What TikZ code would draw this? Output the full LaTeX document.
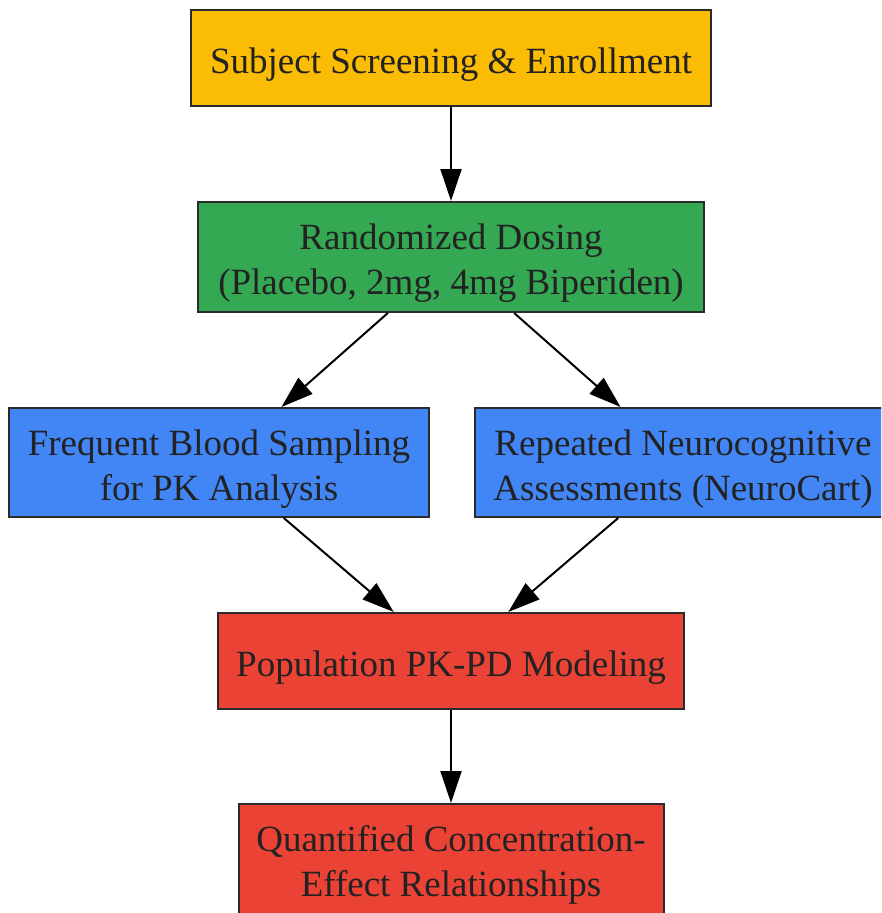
\documentclass[tikz,border=0pt]{standalone}
\usepackage{fontspec}
\setmainfont{Liberation Serif}
\usetikzlibrary{arrows.meta}
\definecolor{gyellow}{HTML}{FBBC05}
\definecolor{ggreen}{HTML}{34A853}
\definecolor{gblue}{HTML}{4285F4}
\definecolor{gred}{HTML}{EA4335}
\definecolor{edgegray}{HTML}{2B2B2B}
\definecolor{textgray}{HTML}{222222}
% text sits a little below the box centre
\newcommand{\lowtext}[1]{\raisebox{-6pt}[\height][\depth]{\begin{tabular}{@{}c@{}}#1\end{tabular}}}
\tikzset{
  box/.style={draw=edgegray,line width=2pt,inner sep=0pt,align=center,
    text=textgray,font=\fontsize{37}{45}\selectfont},
  flow/.style={line width=2pt,-{Triangle[length=32pt,width=21pt]}}
}
\begin{document}
\begin{tikzpicture}[x=1pt,y=-1pt]
\useasboundingbox (0,0) rectangle (881,913);
\clip (0,0) rectangle (881,913);
\node[box,fill=gyellow,minimum width=520pt,minimum height=96pt] (screening) at (451,58) {\lowtext{Subject Screening \& Enrollment}};
\node[box,fill=ggreen,minimum width=506pt,minimum height=110pt] (dosing) at (451,257) {\lowtext{Randomized Dosing\\(Placebo, 2mg, 4mg Biperiden)}};
\node[box,fill=gblue,minimum width=420pt,minimum height=109pt] (sampling) at (219,462.5) {\lowtext{Frequent Blood Sampling\\for PK Analysis}};
\node[box,fill=gblue,minimum width=416pt,minimum height=109pt] (assess) at (683,462.5) {\lowtext{Repeated Neurocognitive\\Assessments (NeuroCart)}};
\node[box,fill=gred,minimum width=466pt,minimum height=96pt] (modeling) at (451,661) {\lowtext{Population PK-PD Modeling}};
\node[box,fill=gred,minimum width=425pt,minimum height=110pt] (effect) at (451,859) {\lowtext{Quantified Concentration-\\Effect Relationships}};
\draw[flow] (screening) -- (dosing);
\draw[flow] (dosing) -- (sampling);
\draw[flow] (dosing) -- (assess);
\draw[flow] (sampling) -- (modeling);
\draw[flow] (assess) -- (modeling);
\draw[flow] (modeling) -- (effect);
\end{tikzpicture}
\end{document}
